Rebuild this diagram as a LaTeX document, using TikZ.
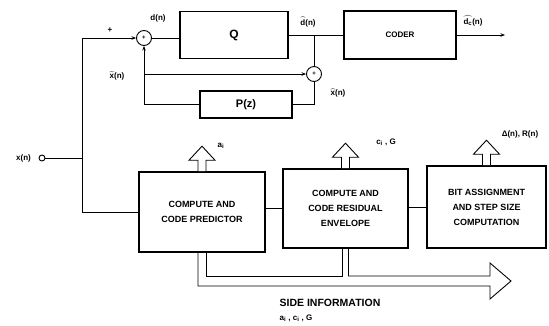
\documentclass[tikz,border=0pt]{standalone}
\usepackage{amsmath}
\usepackage{fontspec}
\setmainfont{Liberation Sans}
\usetikzlibrary{arrows.meta, positioning}

\tikzset{
  blk/.style={draw, line width=1.6pt, align=center, inner sep=0pt, font=\bfseries\fontsize{9}{15}\selectfont},
  adder/.style={circle, draw, line width=0.9pt, minimum size=15pt, inner sep=0pt, font=\bfseries\fontsize{6}{6}\selectfont},
  sig/.style={line width=0.9pt},
  sigarr/.style={sig, -{Stealth[length=4.5pt, width=3.5pt]}},
  lbl/.style={inner sep=0.5pt, font=\bfseries\boldmath\fontsize{8}{9}\selectfont},
  bus/.style={line width=0.9pt},
  upout/.pic={
    \draw[line width=0.9pt, fill=white] (-4,0) -- (-4,-11) -- (-13,-11) -- (0,-25) -- (13,-11) -- (4,-11) -- (4,0);
  }
}

\begin{document}
\begin{tikzpicture}[x=1pt, y=-1pt]
  \useasboundingbox (0,0) rectangle (549,325);

  % loop around the quantiser
  \node[adder] (sumA) at (144,38) {+};
  \node[blk, minimum width=108pt, minimum height=47pt, font=\bfseries\fontsize{12}{12}\selectfont] (quant) at (234,35) {Q};
  \node[blk, minimum width=112pt, minimum height=48pt, font=\bfseries\fontsize{8}{8}\selectfont] (coder) at (400,35) {CODER};
  \node[adder] (sumB) at (314,74) {+};
  \node[blk, minimum width=92pt, minimum height=27pt, font=\bfseries\fontsize{11}{11}\selectfont] (pz) at (246,104.5) {P(z)};

  % input
  \node[circle, draw, sig, minimum size=6pt, inner sep=0pt] (xin) at (42,158) {};
  \node[lbl, left=7pt of xin] (xlbl) {x(n)};
  \coordinate (jx) at (82,158);
  \coordinate (dq) at (sumB |- quant);
  \coordinate (jt) at (sumA |- sumB);
  \coordinate (dout) at (505,35);

  % analysis blocks
  \node[blk, minimum width=126pt, minimum height=80pt] (pred) at (202,212) {COMPUTE AND\\CODE PREDICTOR};
  \node[blk, minimum width=125pt, minimum height=79pt] (resid) at (345.5,208.5) {COMPUTE AND\\CODE RESIDUAL\\ENVELOPE};
  \node[blk, minimum width=119pt, minimum height=82pt] (bitas) at (486.5,207) {BIT ASSIGNMENT\\AND STEP SIZE\\COMPUTATION};

  % signal lines
  \draw[sig] (xin) -- (jx);
  \draw[sigarr] (jx) |- (sumA);
  \draw[sig] (jx) |- (pred);
  \draw[sig] (sumA) -- (sumA -| quant.west);
  \draw[sig] (quant) -- (coder);
  \draw[sig] (dq) -- (sumB);
  \draw[sigarr] (coder) -- (dout);
  \draw[sig] (sumB) |- (pz);
  \draw[sigarr] (pz) -| (sumA);
  \draw[sigarr] (jt) -- (sumB);
  \draw[sig] (resid.west) -- (resid.west -| pred.east);
  \draw[sig] (bitas.west) -- (bitas.west -| resid.east);

  % labels
  \node[lbl] (plus) at (110,30) {+};
  \node[lbl] (dlbl) at (158,18) {d(n)};
  \node[lbl] (dqlbl) at (308,22) {$\widehat{\text{d}}$(n)};
  \node[lbl] (dclbl) at (473,21) {$\widehat{\text{d}_{\text{c}}}$(n)};
  \node[lbl] (xtlbl) at (117,76) {$\widetilde{\text{x}}$(n)};
  \node[lbl] (xhlbl) at (338,93) {$\widehat{\text{x}}$(n)};

  % parameter outputs
  \pic at (pred.north) {upout};
  \pic at (resid.north) {upout};
  \pic at (bitas.north) {upout};
  \node[lbl] (albl) at (221,146) {a$_\text{i}$};
  \node[lbl] (clbl) at (386,142) {c$_\text{i}$ , G};
  \node[lbl] (rlbl) at (520,134) {Δ(n), R(n)};

  % side information bus
  \coordinate (sidetip) at (511,281);
  \draw[bus] ([xshift=-4pt]pred.south) |- (490,286) -- (490,299) -- (sidetip) -- (490,263) -- (490,276) -| ([xshift=3pt]resid.south);
  \draw[bus] ([xshift=4pt]pred.south) -- ++(0,24) -| ([xshift=-3pt]resid.south);
  \node[font=\bfseries\fontsize{10.5}{12}\selectfont] (side) at (330,303) {SIDE INFORMATION};
  \node[lbl] (sidevals) at (296,318) {a$_\text{i}$ , c$_\text{i}$ , G};
\end{tikzpicture}
\end{document}
